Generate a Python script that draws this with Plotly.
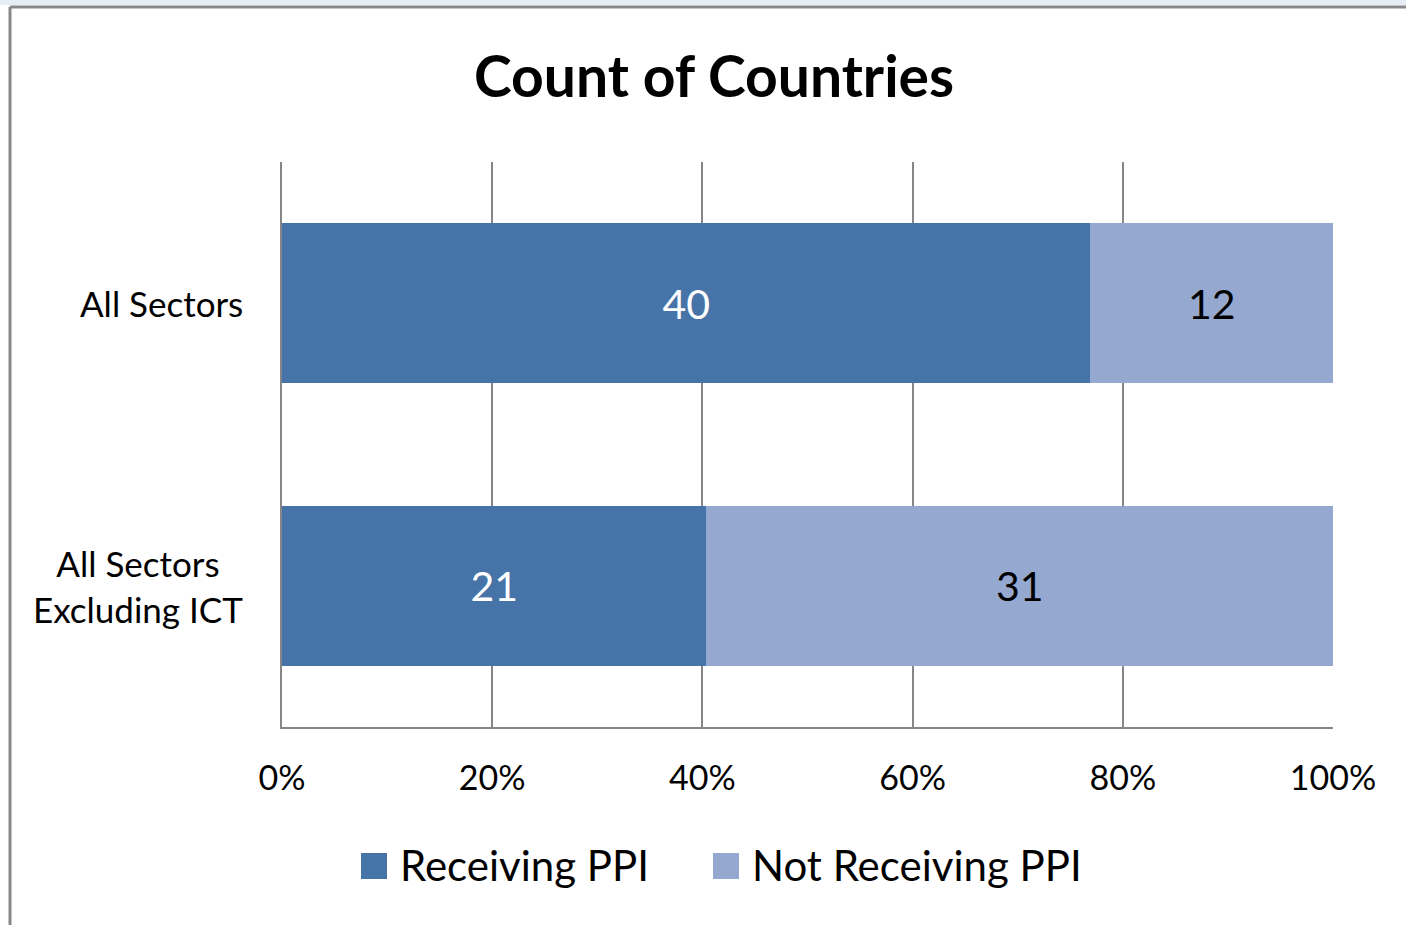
import plotly.graph_objects as go

categories = ["All Sectors", "All Sectors<br>Excluding ICT"]
receiving = [40, 21]
not_receiving = [12, 31]
series_names = ["Receiving PPI", "Not Receiving PPI"]
x_ticks = [0, 20, 40, 60, 80, 100]
x_tick_labels = [f"{v}%" for v in x_ticks]

dark_blue = "#4674A8"
light_blue = "#95A9D0"
grid_grey = "#868686"
font_name = "Lato"

W, H = 1406, 925


def px(x):
    return x / W


def py(y):
    return 1 - y / H


fig = go.Figure()
fig.add_trace(go.Bar(y=categories, x=receiving, name=series_names[0], orientation="h",
                     marker=dict(color=dark_blue, line_width=0), showlegend=False,
                     text=receiving, textposition="inside", insidetextanchor="middle",
                     textfont=dict(color="white", size=41, family=font_name)))
fig.add_trace(go.Bar(y=categories, x=not_receiving, name=series_names[1], orientation="h",
                     marker=dict(color=light_blue, line_width=0), showlegend=False,
                     text=not_receiving, textposition="inside", insidetextanchor="middle",
                     textfont=dict(color="black", size=41, family=font_name)))

# category labels, lines centred like the original
for cat in categories:
    fig.add_annotation(x=px(245), xref="paper", y=cat, yref="y", text=cat,
                       showarrow=False, xanchor="right", align="center",
                       font=dict(size=35, color="black", family=font_name))

# legend drawn by hand so the swatches get the big square size of the original
legend_items = [(series_names[0], dark_blue, 361), (series_names[1], light_blue, 713)]
for name, col, x0 in legend_items:
    fig.add_shape(type="rect", xref="paper", yref="paper", x0=px(x0), x1=px(x0 + 26),
                  y0=py(879), y1=py(853), fillcolor=col, line_width=0)
    fig.add_annotation(x=px(x0 + 37), xref="paper", y=py(865), yref="paper", text=name,
                       showarrow=False, xanchor="left", yanchor="middle",
                       font=dict(size=42, color="black", family=font_name))

# frame of the chart area (cropped at the right and bottom)
fig.add_shape(type="rect", xref="paper", yref="paper", x0=0, x1=1, y0=py(5), y1=1,
              fillcolor="#E6EDF6", line_width=0, layer="below")
fig.add_shape(type="line", xref="paper", yref="paper", x0=px(10), x1=1, y0=py(7), y1=py(7),
              line=dict(color="#878787", width=3))
fig.add_shape(type="line", xref="paper", yref="paper", x0=px(10), x1=px(10), y0=0, y1=py(7),
              line=dict(color="#878787", width=3))

fig.update_layout(
    width=W, height=H,
    barmode="stack", barnorm="percent", bargap=0.434,
    plot_bgcolor="white", paper_bgcolor="white",
    margin=dict(l=0, r=0, t=0, b=0, autoexpand=False),
    font=dict(family=font_name, color="black"),
    showlegend=False,
    title=dict(text="<b>Count of Countries</b>", x=px(714), xanchor="center",
               y=py(77), yanchor="middle", font=dict(size=57, color="black", family=font_name)),
    xaxis=dict(domain=[px(282), px(1333)], range=[0, 100], tickvals=x_ticks, ticktext=x_tick_labels,
               showgrid=True, gridcolor=grid_grey, gridwidth=2,
               showline=True, linecolor=grid_grey, linewidth=2, zeroline=False,
               ticks="", ticklabelstandoff=20, tickfont=dict(size=34, color="black")),
    yaxis=dict(domain=[py(727), py(162)], autorange="reversed", showticklabels=False,
               showgrid=False, showline=True, linecolor=grid_grey, linewidth=2, ticks=""),
)

fig.write_html("out.html", config={"displayModeBar": False},
               post_script="document.body.style.margin='0';")
